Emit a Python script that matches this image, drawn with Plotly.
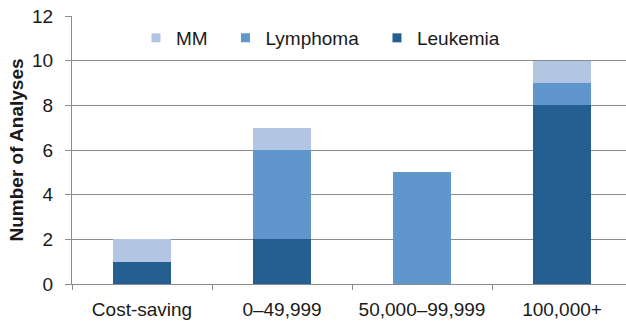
import plotly.graph_objects as go

categories = ["Cost-saving", "0–49,999", "50,000–99,999", "100,000+"]
leukemia = [1, 2, 0, 8]
lymphoma = [0, 4, 5, 1]
mm = [1, 1, 0, 1]
y_ticks = [0, 2, 4, 6, 8, 10, 12]

FONT = "Liberation Sans, Arial, sans-serif"
C_LEUK = "#255E91"
C_LYMPH = "#5F97CD"
C_MM = "#B2C5E3"

fig = go.Figure()
fig.add_trace(go.Bar(name="Leukemia", x=categories, y=leukemia, marker_color=C_LEUK,
                     marker_line_width=0, showlegend=False))
fig.add_trace(go.Bar(name="Lymphoma", x=categories, y=lymphoma, marker_color=C_LYMPH,
                     marker_line_width=0, showlegend=False))
fig.add_trace(go.Bar(name="MM", x=categories, y=mm, marker_color=C_MM,
                     marker_line_width=0, showlegend=False))

# legend-only entries (small square keys)
for name, col, lg in [("MM", C_MM, "legend"), ("Lymphoma", C_LYMPH, "legend2"),
                      ("Leukemia", C_LEUK, "legend3")]:
    fig.add_trace(go.Scatter(x=[None], y=[None], mode="markers", name=name,
                             marker=dict(symbol="square", size=9, color=col),
                             showlegend=True, legend=lg))

leg_common = dict(orientation="h", xanchor="left", y=0.918, yanchor="middle",
                  bgcolor="rgba(0,0,0,0)", font=dict(size=19, family=FONT, color="#1a1a1a"))

fig.update_layout(
    width=626, height=322,
    barmode="stack", bargap=0.59,
    paper_bgcolor="white", plot_bgcolor="white",
    margin=dict(l=72, r=0, t=16, b=38),
    font=dict(family=FONT, size=19, color="#1a1a1a"),
    legend=dict(x=0.1155, **leg_common),
    legend2=dict(x=0.277, **leg_common),
    legend3=dict(x=0.5505, **leg_common),
    showlegend=True,
)
fig.update_xaxes(range=[-0.5, 3.457], showline=True, linecolor="#8c8c8c", linewidth=1,
                 ticks="outside", tickson="boundaries", ticklen=5, tickcolor="#8c8c8c",
                 showgrid=False, tickfont=dict(size=19), automargin=False,
                 ticklabelstandoff=8)
fig.update_yaxes(range=[0, 12], tickvals=y_ticks, showline=True, linecolor="#8c8c8c",
                 linewidth=1, ticks="outside", ticklen=6, tickcolor="#8c8c8c",
                 showgrid=True, gridcolor="#8c8c8c", gridwidth=1, zeroline=False,
                 tickfont=dict(size=19), automargin=False, ticklabelstandoff=8,
                 title=dict(text="<b>Number of Analyses</b>", font=dict(size=19), standoff=3))

fig.write_html("out.html", config={"displayModeBar": False},
               post_script="document.body.style.margin='0';document.body.style.padding='0';")
